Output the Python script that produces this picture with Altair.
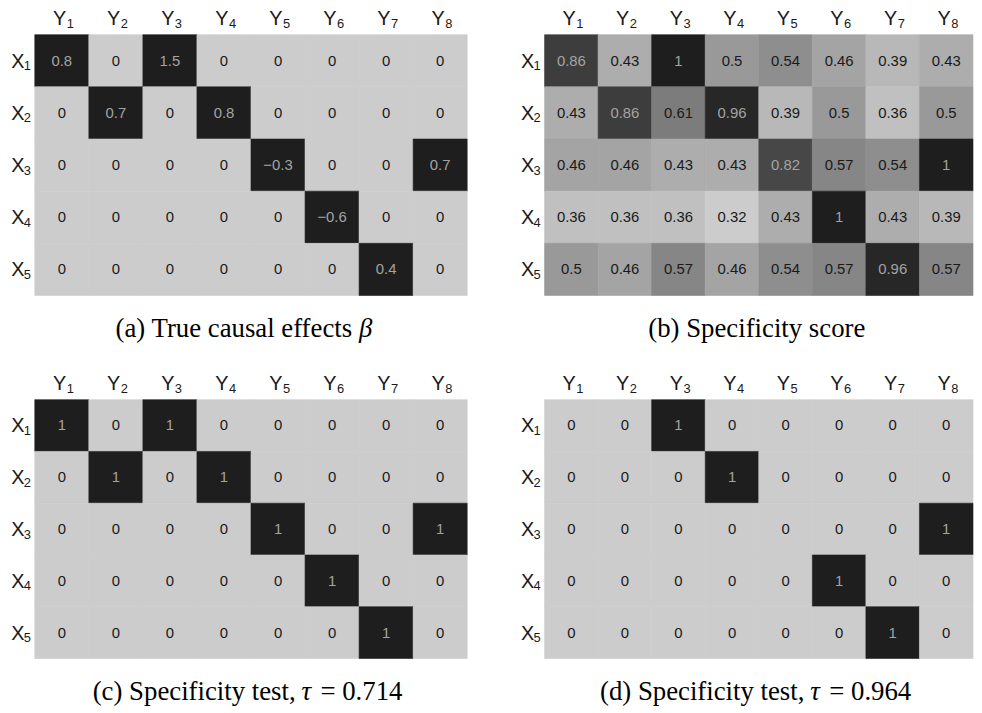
import altair as alt
import pandas as pd

COLS = ["1", "2", "3", "4", "5", "6", "7", "8"]
ROWS = ["1", "2", "3", "4", "5"]

BETA = [
    [0.8, 0, 1.5, 0, 0, 0, 0, 0],
    [0, 0.7, 0, 0.8, 0, 0, 0, 0],
    [0, 0, 0, 0, -0.3, 0, 0, 0.7],
    [0, 0, 0, 0, 0, -0.6, 0, 0],
    [0, 0, 0, 0, 0, 0, 0.4, 0],
]
SPEC = [
    [0.86, 0.43, 1, 0.5, 0.54, 0.46, 0.39, 0.43],
    [0.43, 0.86, 0.61, 0.96, 0.39, 0.5, 0.36, 0.5],
    [0.46, 0.46, 0.43, 0.43, 0.82, 0.57, 0.54, 1],
    [0.36, 0.36, 0.36, 0.32, 0.43, 1, 0.43, 0.39],
    [0.5, 0.46, 0.57, 0.46, 0.54, 0.57, 0.96, 0.57],
]
TEST_714 = [
    [1, 0, 1, 0, 0, 0, 0, 0],
    [0, 1, 0, 1, 0, 0, 0, 0],
    [0, 0, 0, 0, 1, 0, 0, 1],
    [0, 0, 0, 0, 0, 1, 0, 0],
    [0, 0, 0, 0, 0, 0, 1, 0],
]
TEST_964 = [
    [0, 0, 1, 0, 0, 0, 0, 0],
    [0, 0, 0, 1, 0, 0, 0, 0],
    [0, 0, 0, 0, 0, 0, 0, 1],
    [0, 0, 0, 0, 0, 1, 0, 0],
    [0, 0, 0, 0, 0, 0, 1, 0],
]

LIGHT = "#cccccc"
DARK = "#1e1e1e"
TXT_DARK = "#1a1a1a"
TXT_LIGHT = "#a3a3a3"
SANS = "Liberation Sans"
SERIF = "Liberation Serif"
CAP_SIZE = 27


def fmt(v):
    return f"{v:g}".replace("-", "\u2212")


def cells(matrix, kind):
    flat = [v for r in matrix for v in r]
    lo, hi = min(flat), max(flat)
    recs = []
    for i, r in enumerate(matrix):
        for j, v in enumerate(r):
            if kind == "nonzero":
                lev = 1.0 if v != 0 else 0.0
            elif kind == "range":
                lev = (v - lo) / (hi - lo)
            else:
                lev = float(v)
            recs.append(dict(row=ROWS[i], col=COLS[j], value=v, label=fmt(v), level=lev))
    return pd.DataFrame(recs)


def panel(matrix, kind, caption, w, h):
    df = cells(matrix, kind)
    xs = alt.X("col:N", sort=COLS, axis=None,
               scale=alt.Scale(paddingInner=0, paddingOuter=0))
    ys = alt.Y("row:N", sort=ROWS, axis=None,
               scale=alt.Scale(paddingInner=0, paddingOuter=0))
    shade = alt.Scale(domain=[0, 1], range=[LIGHT, DARK])
    base = alt.Chart(df)
    heat = base.mark_rect(strokeWidth=0.6).encode(
        x=xs, y=ys,
        color=alt.Color("level:Q", scale=shade, legend=None),
        stroke=alt.Stroke("level:Q", scale=shade, legend=None),
    )
    vals = base.mark_text(font=SANS, fontSize=15).encode(
        x=xs, y=ys, text="label:N",
        color=alt.condition("datum.level > 0.6", alt.value(TXT_LIGHT), alt.value(TXT_DARK)),
    )
    coldf = pd.DataFrame({"col": COLS, "letter": ["Y"] * len(COLS), "sub": COLS})
    rowdf = pd.DataFrame({"row": ROWS, "letter": ["X"] * len(ROWS), "sub": ROWS})
    ylet = alt.Chart(coldf).mark_text(
        font=SANS, fontSize=20, align="right", baseline="alphabetic", dx=4.5, color=TXT_DARK
    ).encode(x=xs, y=alt.value(-9.5), text="letter:N")
    ysub = alt.Chart(coldf).mark_text(
        font=SANS, fontSize=13, align="left", baseline="alphabetic", dx=5, color=TXT_DARK
    ).encode(x=xs, y=alt.value(-7), text="sub:N")
    xlet = alt.Chart(rowdf).mark_text(
        font=SANS, fontSize=20, align="right", baseline="alphabetic", dy=7, color=TXT_DARK
    ).encode(x=alt.value(-10.5), y=ys, text="letter:N")
    xsub = alt.Chart(rowdf).mark_text(
        font=SANS, fontSize=13, align="right", baseline="alphabetic", dy=9.5, color=TXT_DARK
    ).encode(x=alt.value(-4), y=ys, text="sub:N")
    layers = [heat, vals, ylet, ysub, xlet, xsub]
    for text, xpos, align, italic in caption:
        layers.append(
            alt.Chart(pd.DataFrame({"t": [text]})).mark_text(
                font=SERIF, fontSize=CAP_SIZE, align=align, baseline="alphabetic",
                fontStyle="italic" if italic else "normal", color="#000000",
            ).encode(x=alt.value(xpos), y=alt.value(h + 42), text="t:N")
        )
    return alt.layer(*layers).properties(width=w, height=h)


cap_a = [("(a) True causal effects", 320, "right", False), ("\u03b2", 327, "left", True)]
cap_b = [("(b) Specificity score", 214, "center", False)]
cap_c = [("(c) Specificity test,", 263, "right", False), ("\u03c4", 269, "left", True),
         ("=", 288, "left", False), ("0.714", 310, "left", False)]
cap_d = [("(d) Specificity test,", 262, "right", False), ("\u03c4", 268, "left", True),
         ("=", 287, "left", False), ("0.964", 309, "left", False)]

pa = panel(BETA, "nonzero", cap_a, 436, 263)
pb = panel(SPEC, "range", cap_b, 432, 263)
pc = panel(TEST_714, "binary", cap_c, 436, 261)
pd_ = panel(TEST_964, "binary", cap_d, 432, 261)

chart = alt.concat(
    pa, pb, pc, pd_, columns=2, spacing={"row": 105, "column": 78}, bounds="flush"
).properties(
    padding={"left": 3, "top": -2, "right": 0, "bottom": 0}
).configure_view(stroke=None)

chart.save("out.html", embed_options={"renderer": "svg", "actions": False})
